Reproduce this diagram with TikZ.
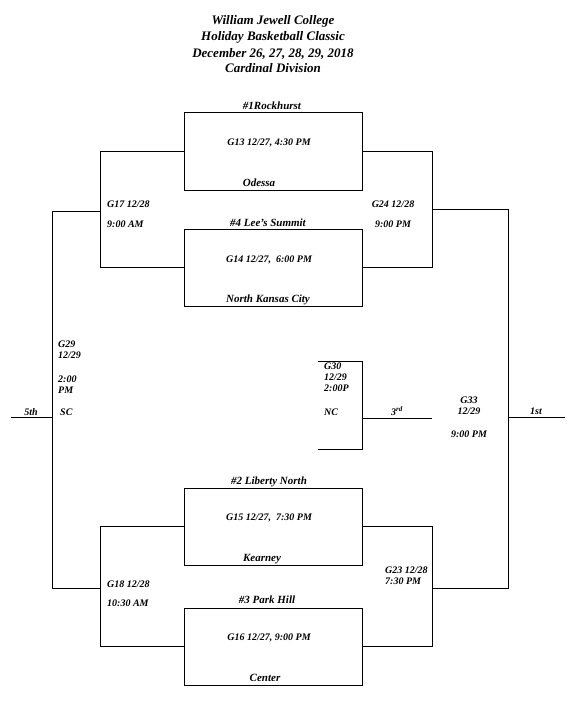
\documentclass[tikz,border=0pt]{standalone}
\usepackage{fontspec}
\setmainfont{Liberation Serif}
\begin{document}
\begin{tikzpicture}[x=1pt,y=-1pt,
  gamebox/.style={draw, line width=0.8pt, minimum width=178pt, minimum height=78pt, inner sep=0pt},
  ln/.style={line width=0.8pt},
  lbl/.style={font=\bfseries\itshape\fontsize{10}{12}\selectfont, inner sep=0pt},
  team/.style={font=\bfseries\itshape\fontsize{11}{13}\selectfont, inner sep=0pt, anchor=base},
  ttl/.style={font=\bfseries\itshape\fontsize{13}{15}\selectfont, inner sep=0pt, anchor=base}]
\useasboundingbox[fill=white] (0,0) rectangle (577,701);
% title
\node[ttl] (t1) at (273,25) {William Jewell College};
\node[ttl] (t2) at (273,41) {Holiday Basketball Classic};
\node[ttl] (t3) at (273,57) {December 26, 27, 28, 29, 2018};
\node[ttl] (t4) at (273,72.5) {Cardinal Division};
% boxes
\node[gamebox] (g13) at (273,151) {};
\node[gamebox, minimum height=77pt] (g14) at (273,267.5) {};
\node[gamebox, minimum height=77pt] (g15) at (273,526.5) {};
\node[gamebox, minimum height=77pt] (g16) at (273,646.5) {};
% box texts
\node[team] (s1) at (272,109) {\#1Rockhurst};
\node[lbl, anchor=base] (l13) at (269,145) {G13 12/27, 4:30 PM};
\node[team] (o13) at (259,186) {Odessa};
\node[team] (s4) at (268,226) {\#4 Lee’s Summit};
\node[lbl, anchor=base] (l14) at (269,262) {G14 12/27,~ 6:00 PM};
\node[team] (o14) at (268,302) {North Kansas City};
\node[team] (s2) at (269,484) {\#2 Liberty North};
\node[lbl, anchor=base] (l15) at (269,520) {G15 12/27,~ 7:30 PM};
\node[team] (o15) at (262,561) {Kearney};
\node[team] (s3) at (267,603) {\#3 Park Hill};
\node[lbl, anchor=base] (l16) at (269,640) {G16 12/27, 9:00 PM};
\node[team] (o16) at (265,681) {Center};
% bracket coordinates
\coordinate (g17t) at (100,151);
\coordinate (g17b) at (100,267.5);
\coordinate (g17o) at (100,211);
\coordinate (g24t) at (432,151);
\coordinate (g24b) at (432,267.5);
\coordinate (g24o) at (432,209);
\coordinate (g18t) at (100,526.5);
\coordinate (g18b) at (100,646.5);
\coordinate (g18o) at (100,588);
\coordinate (g23t) at (432,526.5);
\coordinate (g23b) at (432,646.5);
\coordinate (g23o) at (432,588);
\coordinate (g29t) at (52,211);
\coordinate (g29b) at (52,588);
\coordinate (g29m) at (52,417);
\coordinate (fifth) at (11,417);
\coordinate (g33t) at (508,209);
\coordinate (g33b) at (508,588);
\coordinate (g33m) at (508,417);
\coordinate (first) at (565,417);
\coordinate (g30a) at (318,361);
\coordinate (g30t) at (362,361);
\coordinate (g30b) at (362,449);
\coordinate (g30c) at (318,449);
\coordinate (g30m) at (362,418);
\coordinate (third) at (432,418);
% connectors
\draw[ln] (g13.west) -- (g17t) -- (g17b) -- (g14.west);
\draw[ln] (g13.east) -- (g24t) -- (g24b) -- (g14.east);
\draw[ln] (g15.west) -- (g18t) -- (g18b) -- (g16.west);
\draw[ln] (g15.east) -- (g23t) -- (g23b) -- (g16.east);
\draw[ln] (g17o) -- (g29t) -- (g29b) -- (g18o);
\draw[ln] (g29m) -- (fifth);
\draw[ln] (g24o) -- (g33t) -- (g33b) -- (g23o);
\draw[ln] (g33m) -- (first);
\draw[ln] (g30a) -- (g30t) -- (g30b) -- (g30c);
\draw[ln] (g30m) -- (third);
% bracket labels
\node[lbl, anchor=base west] (a17) at (107,207) {G17 12/28};
\node[lbl, anchor=base west] (b17) at (107,227) {9:00 AM};
\node[lbl, anchor=base] (a24) at (393,207) {G24 12/28};
\node[lbl, anchor=base] (b24) at (393,227) {9:00 PM};
\node[lbl, anchor=base west] (a18) at (107,587) {G18 12/28};
\node[lbl, anchor=base west] (b18) at (107,606) {10:30 AM};
\node[lbl, anchor=base west] (a23) at (385,573) {G23 12/28};
\node[lbl, anchor=base west] (b23) at (385,584) {7:30 PM};
\node[lbl, anchor=base west] (a29) at (58,347) {G29};
\node[lbl, anchor=base west] (b29) at (58,358) {12/29};
\node[lbl, anchor=base west] (c29) at (58,382) {2:00};
\node[lbl, anchor=base west] (d29) at (58,393) {PM};
\node[lbl, anchor=base west] (e29) at (60,415) {SC};
\node[lbl, anchor=base] (p5) at (31,415) {5th};
\node[lbl, anchor=base west] (a30) at (324,369.5) {G30};
\node[lbl, anchor=base west] (b30) at (324,380.5) {12/29};
\node[lbl, anchor=base west] (c30) at (324,391.5) {2:00P};
\node[lbl, anchor=base west] (d30) at (324,415) {NC};
\node[lbl, anchor=base] (p3) at (397,415) {3\textsuperscript{rd}};
\node[lbl, anchor=base] (a33) at (469,403) {G33};
\node[lbl, anchor=base] (b33) at (469,414) {12/29};
\node[lbl, anchor=base] (c33) at (469,437) {9:00 PM};
\node[lbl, anchor=base] (p1) at (536,414) {1st};
\end{tikzpicture}
\end{document}
